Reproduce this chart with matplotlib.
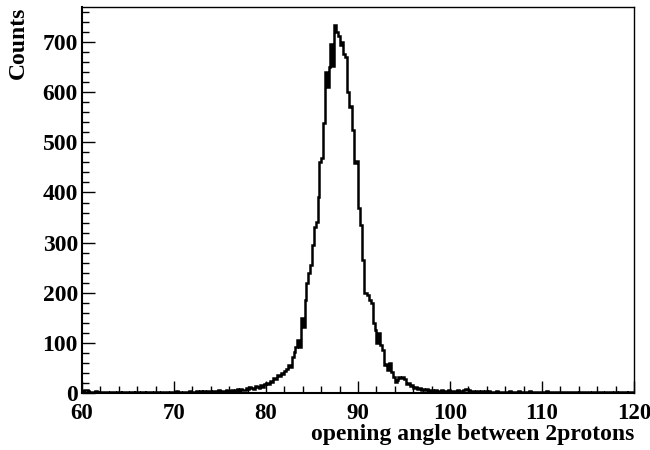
import numpy as np
import matplotlib
matplotlib.use("Agg")
import matplotlib.pyplot as plt
from matplotlib.ticker import MultipleLocator

# histogram: 300 bins of 0.2 deg from 60 to 120
x_min, x_max, n_bins = 60.0, 120.0, 300
counts = [
    4, 6, 5, 3, 2, 1, 2, 3, 1, 0,
    2, 1, 1, 2, 0, 1, 2, 1, 0, 1,
    1, 0, 2, 1, 1, 0, 1, 2, 0, 1,
    1, 0, 2, 1, 0, 1, 1, 2, 0, 1,
    1, 2, 0, 1, 1, 2, 1, 0, 2, 1,
    1, 3, 1, 2, 0, 1, 2, 1, 3, 2,
    2, 1, 3, 2, 4, 2, 3, 1, 3, 4,
    2, 4, 3, 2, 5, 3, 4, 2, 5, 3,
    4, 6, 3, 5, 7, 4, 8, 6, 5, 9,
    8, 12, 10, 7, 14, 11, 9, 15, 12, 18,
    20, 17, 24, 22, 30, 28, 36, 33, 40, 38,
    44, 48, 55, 52, 72, 82, 92, 106, 92, 150,
    132, 185, 220, 240, 255, 295, 331, 341, 391, 460,
    469, 539, 640, 610, 650, 697, 652, 734, 720, 712,
    695, 700, 676, 670, 600, 570, 572, 525, 459, 462,
    369, 335, 265, 200, 200, 195, 185, 180, 140, 126,
    100, 120, 96, 86, 55, 58, 45, 60, 42, 32,
    22, 25, 32, 30, 32, 28, 18, 20, 14, 16,
    10, 12, 8, 10, 6, 8, 5, 7, 4, 6,
    5, 3, 6, 4, 3, 5, 2, 4, 3, 5,
    2, 4, 3, 3, 5, 2, 4, 6, 8, 7,
    5, 3, 4, 2, 3, 4, 2, 3, 2, 3,
    1, 3, 2, 2, 1, 3, 2, 1, 2, 2,
    1, 2, 3, 1, 2, 2, 1, 3, 2, 1,
    2, 1, 2, 3, 1, 2, 1, 2, 1, 1,
    2, 1, 3, 1, 2, 1, 1, 2, 1, 2,
    1, 2, 1, 1, 2, 1, 2, 1, 1, 0,
    1, 2, 1, 1, 2, 1, 0, 1, 2, 1,
    1, 1, 2, 0, 1, 1, 2, 1, 0, 1,
    1, 0, 1, 2, 1, 1, 0, 1, 1, 2,
]
x_label = "opening angle between 2protons"
y_label = "Counts"
x_ticks = [60, 70, 80, 90, 100, 110, 120]
y_ticks = [0, 100, 200, 300, 400, 500, 600, 700]

plt.rcParams['font.family'] = ['Liberation Serif', 'DejaVu Serif']
plt.rcParams['font.weight'] = 'bold'

fig = plt.figure(figsize=(6.5, 4.5), dpi=100)
ax = fig.add_axes([82/650, 57/450, (634-82)/650, (393-7)/450])

edges = np.linspace(x_min, x_max, n_bins + 1)
ax.stairs(counts, edges, color='black', linewidth=1.8, baseline=None)

ax.set_xlim(x_min, x_max)
ax.set_ylim(0, 770)
ax.set_xticks(x_ticks)
ax.set_yticks(y_ticks)
ax.xaxis.set_minor_locator(MultipleLocator(2))
ax.yaxis.set_minor_locator(MultipleLocator(20))
ax.tick_params(which='major', direction='in', length=9, width=1, top=False, right=False)
ax.tick_params(axis='y', which='major', labelsize=17, pad=3)
ax.tick_params(axis='x', which='major', labelsize=16.5, pad=7)
ax.tick_params(which='minor', direction='in', length=5, width=1, top=False, right=False)
for lab in ax.get_xticklabels() + ax.get_yticklabels():
    lab.set_fontweight('bold')
for s in ax.spines.values():
    s.set_linewidth(1.0)
ax.spines['left'].set_linewidth(1.5)
ax.spines['bottom'].set_linewidth(1.5)

ax.set_xlabel(x_label, fontsize=17, fontweight='bold', loc='right', labelpad=0)
ax.set_ylabel(y_label, fontsize=17, fontweight='bold', loc='top', labelpad=10)

fig.savefig("out.png", dpi=100)
